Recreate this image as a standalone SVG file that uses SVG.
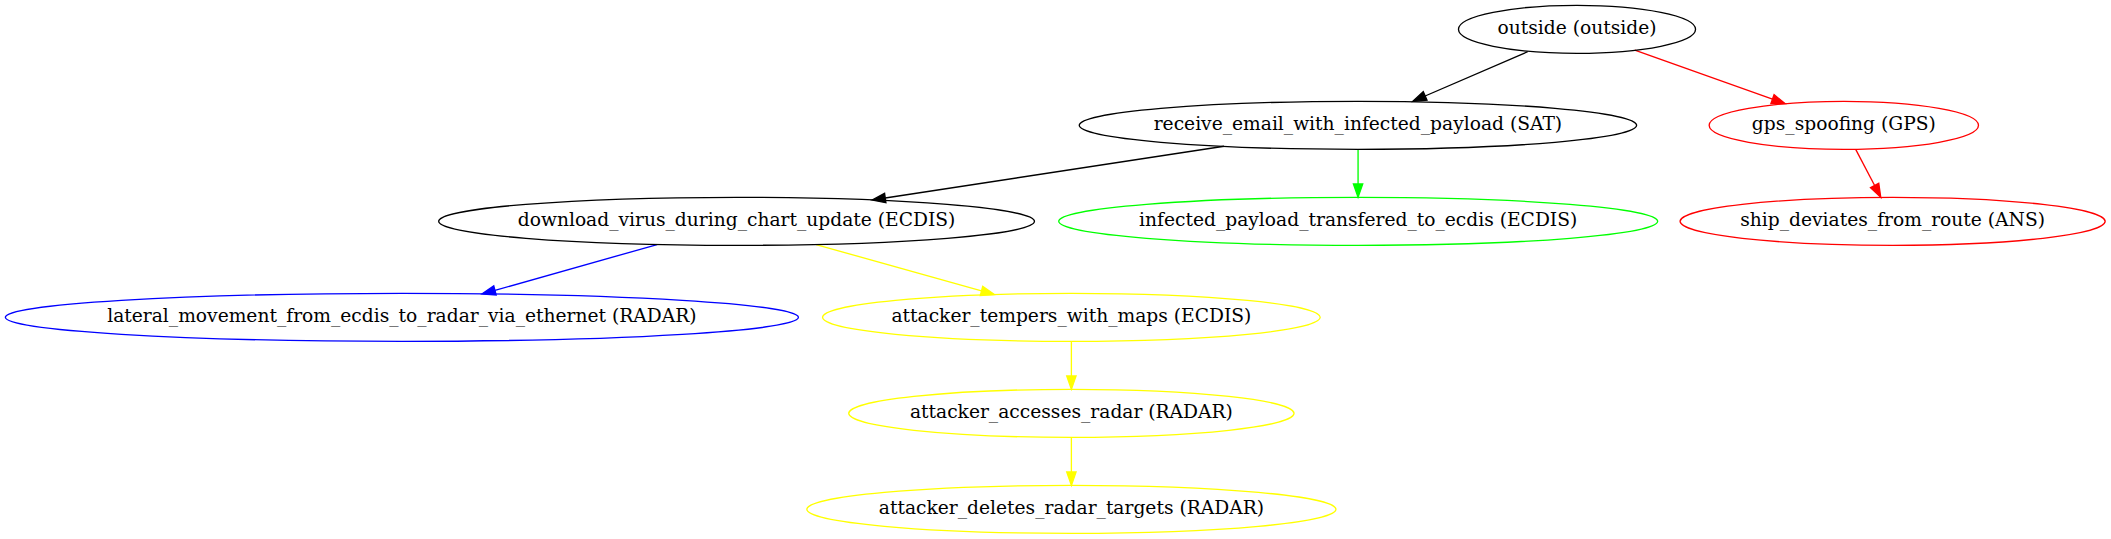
<svg xmlns="http://www.w3.org/2000/svg" width="2111" height="539" viewBox="0 0 2111 539">
<style>
  .n ellipse { fill: none; stroke-width: 1; }
  .n text { font-family: "DejaVu Serif", "Liberation Serif", serif; font-size: 14px; text-anchor: middle; fill: #000000; }
  .e line { stroke-width: 1; fill: none; }
  .k { stroke: #000000; } .kf { fill: #000000; stroke: #000000; }
  .r { stroke: #ff0000; } .rf { fill: #ff0000; stroke: #ff0000; }
  .g { stroke: #00ff00; } .gf { fill: #00ff00; stroke: #00ff00; }
  .b { stroke: #0000ff; } .bf { fill: #0000ff; stroke: #0000ff; }
  .y { stroke: #ffff00; } .yf { fill: #ffff00; stroke: #ffff00; }
</style>
<rect x="0" y="0" width="2111" height="539" fill="#ffffff"/>
<g transform="scale(1.3334)">
  <g id="connectors" class="e">
    <line class="k" x1="1145.7" y1="38.8" x2="1068.8" y2="72.0"/>
    <polygon class="kf" points="1059.6,76 1067.4,68.8 1070.2,75.2"/>
    <line class="r" x1="1226" y1="37.6" x2="1329.3" y2="74.3"/>
    <polygon class="rf" points="1338.7,77.7 1328.1,77.6 1330.5,71.0"/>
    <line class="r" x1="1391.8" y1="112.2" x2="1405.9" y2="139.1"/>
    <polygon class="rf" points="1410.5,148 1402.8,140.7 1409.0,137.5"/>
    <line class="k" x1="918" y1="109.7" x2="663.9" y2="148.5"/>
    <polygon class="kf" points="654,150 663.4,145.0 664.4,152.0"/>
    <line class="g" x1="1018.5" y1="112" x2="1018.5" y2="138"/>
    <polygon class="gf" points="1018.5,148 1015,138 1022,138"/>
    <line class="b" x1="492.8" y1="183.4" x2="371.2" y2="217.8"/>
    <polygon class="bf" points="361.6,220.4 370.3,214.4 372.1,221.2"/>
    <line class="y" x1="612" y1="183.4" x2="736.1" y2="218.2"/>
    <polygon class="yf" points="745.7,220.9 735.2,221.6 737.0,214.8"/>
    <line class="y" x1="803.5" y1="256" x2="803.5" y2="282"/>
    <polygon class="yf" points="803.5,292 800,282 807,282"/>
    <line class="y" x1="803.5" y1="328" x2="803.5" y2="354"/>
    <polygon class="yf" points="803.5,364 800,354 807,354"/>
  </g>
  <g id="outside" class="n">
    <ellipse class="k" cx="1182.7" cy="22" rx="88.9" ry="18"/>
    <text x="1182.7" y="25.7">outside (outside)</text>
  </g>
  <g id="receive_email_with_infected_payload" class="n">
    <ellipse class="k" cx="1018.4" cy="94" rx="209" ry="18"/>
    <text x="1018.4" y="97.7">receive_email_with_infected_payload (SAT)</text>
  </g>
  <g id="gps_spoofing" class="n">
    <ellipse class="r" cx="1382.8" cy="94" rx="101" ry="18"/>
    <text x="1382.8" y="97.7">gps_spoofing (GPS)</text>
  </g>
  <g id="download_virus_during_chart_update" class="n">
    <ellipse class="k" cx="552.4" cy="166" rx="223.4" ry="18"/>
    <text x="552.4" y="169.7">download_virus_during_chart_update (ECDIS)</text>
  </g>
  <g id="infected_payload_transfered_to_ecdis" class="n">
    <ellipse class="g" cx="1018.6" cy="166" rx="224.6" ry="18"/>
    <text x="1018.6" y="169.7">infected_payload_transfered_to_ecdis (ECDIS)</text>
  </g>
  <g id="ship_deviates_from_route" class="n">
    <ellipse class="r" cx="1419.4" cy="166" rx="159.4" ry="18"/>
    <text x="1419.4" y="169.7">ship_deviates_from_route (ANS)</text>
  </g>
  <g id="lateral_movement_from_ecdis_to_radar_via_ethernet" class="n">
    <ellipse class="b" cx="301.4" cy="238" rx="297.4" ry="18"/>
    <text x="301.4" y="241.7">lateral_movement_from_ecdis_to_radar_via_ethernet (RADAR)</text>
  </g>
  <g id="attacker_tempers_with_maps" class="n">
    <ellipse class="y" cx="803.5" cy="238" rx="186.6" ry="18"/>
    <text x="803.5" y="241.7">attacker_tempers_with_maps (ECDIS)</text>
  </g>
  <g id="attacker_accesses_radar" class="n">
    <ellipse class="y" cx="803.5" cy="310" rx="167" ry="18"/>
    <text x="803.5" y="313.7">attacker_accesses_radar (RADAR)</text>
  </g>
  <g id="attacker_deletes_radar_targets" class="n">
    <ellipse class="y" cx="803.5" cy="382" rx="198.4" ry="18"/>
    <text x="803.5" y="385.7">attacker_deletes_radar_targets (RADAR)</text>
  </g>
</g>
</svg>
